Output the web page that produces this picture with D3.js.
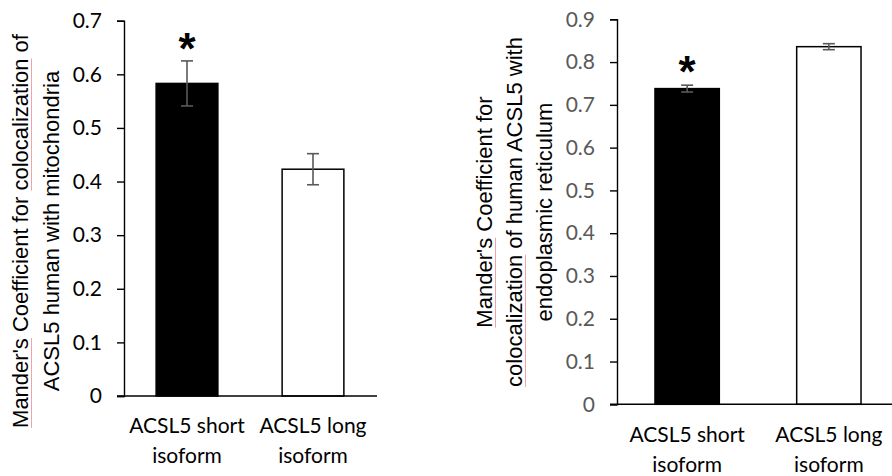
<!DOCTYPE html>
<html>
<head>
<meta charset="utf-8">
<script src="https://cdn.jsdelivr.net/npm/d3@7"></script>
<style>
  body { margin: 0; background: #fff; }
  svg { display: block; }
  .tick text { font-family: Lato, "Open Sans", sans-serif; }
</style>
</head>
<body>
<svg id="chart" width="892" height="476"></svg>
<script>
// data
var categories = ["ACSL5 short|isoform", "ACSL5 long|isoform"];
var barFills = ["#000000", "#ffffff"];

var mitoMeans = [0.583, 0.423];
var mitoErrors = [0.042, 0.029];
var mitoTicks = [0, 0.1, 0.2, 0.3, 0.4, 0.5, 0.6, 0.7];
var mitoTitle = ["Mander's Coefficient for colocalization of", "ACSL5 human with mitochondria"];

var erMeans = [0.738, 0.836];
var erErrors = [0.008, 0.007];
var erTicks = [0, 0.1, 0.2, 0.3, 0.4, 0.5, 0.6, 0.7, 0.8, 0.9];
var erTitle = ["Mander's Coefficient for", "colocalization of human ACSL5 with", "endoplasmic reticulum"];

var starred = [true, false];
// words marked with the red spell-check underline
var flagged = ["Mander's", "colocalization"];

var svg = d3.select("#chart");

function drawPanel(p) {
	var g = svg.append("g");

	var x = d3.scaleBand()
		.domain(categories)
		.range([p.left, p.right])
		.paddingInner(p.padIn)
		.paddingOuter(p.padOut);

	var y = d3.scaleLinear()
		.domain([0, p.max])
		.range([p.bottom, p.top]);

	var data = categories.map(function(c, i) {
		return {cat: c, mean: p.means[i], err: p.errors[i], fill: barFills[i], star: starred[i]};
	});

	// bars
	g.selectAll("rect.bar")
		.data(data)
		.enter().append("rect")
		.attr("class", "bar")
		.attr("x", function(d) { return x(d.cat); })
		.attr("width", x.bandwidth())
		.attr("y", function(d) { return y(d.mean); })
		.attr("height", function(d) { return y(0) - y(d.mean); })
		.attr("fill", function(d) { return d.fill; })
		.attr("stroke", "#000")
		.attr("stroke-width", 1.5);

	// error bars
	var eb = g.selectAll("g.err")
		.data(data)
		.enter().append("g")
		.attr("class", "err")
		.attr("stroke", "#595959")
		.attr("stroke-width", 1.6);
	eb.append("line")
		.attr("x1", function(d) { return x(d.cat) + x.bandwidth() / 2; })
		.attr("x2", function(d) { return x(d.cat) + x.bandwidth() / 2; })
		.attr("y1", function(d) { return y(d.mean + d.err); })
		.attr("y2", function(d) { return y(d.mean - d.err); });
	[1, -1].forEach(function(s) {
		eb.append("line")
			.attr("x1", function(d) { return x(d.cat) + x.bandwidth() / 2 - 6; })
			.attr("x2", function(d) { return x(d.cat) + x.bandwidth() / 2 + 6; })
			.attr("y1", function(d) { return y(d.mean + s * d.err); })
			.attr("y2", function(d) { return y(d.mean + s * d.err); });
	});

	// asterisks
	g.selectAll("text.star")
		.data(data.filter(function(d) { return d.star; }))
		.enter().append("text")
		.attr("class", "star")
		.attr("x", function(d) { return x(d.cat) + x.bandwidth() / 2; })
		.attr("y", function(d) { return y(d.mean + d.err) + p.starDrop; })
		.attr("text-anchor", "middle")
		.attr("font-family", "Liberation Sans, Arial, sans-serif")
		.attr("font-weight", "bold")
		.attr("font-size", 44)
		.text("*");

	// y axis
	var yAxis = g.append("g")
		.attr("transform", "translate(" + p.left + ",0)")
		.call(d3.axisLeft(y).tickValues(p.ticks).tickSize(7).tickSizeOuter(7).tickPadding(15)
			.tickFormat(function(d) { return d === 0 ? "0" : d3.format(".1f")(d); }));
	yAxis.select(".domain").attr("stroke", "#000").attr("stroke-width", 1.4);
	yAxis.selectAll(".tick line").attr("stroke", "#000").attr("stroke-width", 1.4);
	yAxis.selectAll(".tick text")
		.attr("font-size", 21)
		.attr("fill", p.tickColor);

	// x axis line
	g.append("line")
		.attr("x1", p.left - 7)
		.attr("x2", p.axisEnd)
		.attr("y1", y(0))
		.attr("y2", y(0))
		.attr("stroke", "#000")
		.attr("stroke-width", 1.4);

	// category labels
	var xl = g.selectAll("text.cat")
		.data(categories)
		.enter().append("text")
		.attr("class", "cat")
		.attr("text-anchor", "middle")
		.attr("font-family", "Lato, 'Open Sans', sans-serif")
		.attr("font-size", 21)
		.attr("fill", "#000");
	[0, 1].forEach(function(k) {
		xl.append("tspan")
			.attr("x", function(d) { return x(d) + x.bandwidth() / 2; })
			.attr("y", p.labelY + k * 30)
			.text(function(d) { return d.split("|")[k]; });
	});

	// y title, with the spell-check underlines
	p.title.forEach(function(line, k) {
		var tg = svg.append("g")
			.attr("transform", "translate(" + p.titleX[k] + "," + p.titleCenter + ") rotate(-90)");
		var t = tg.append("text")
			.attr("text-anchor", "middle")
			.attr("font-family", "Liberation Sans, Arial, sans-serif")
			.attr("font-size", 22)
			.attr("fill", "#000")
			.text(line);
		var total = t.node().getComputedTextLength();
		flagged.forEach(function(w) {
			var i = line.indexOf(w);
			if (i < 0) return;
			var x0 = -total / 2 + (i > 0 ? t.node().getSubStringLength(0, i) : 0);
			var len = t.node().getSubStringLength(i, w.length);
			tg.append("line")
				.attr("x1", x0).attr("x2", x0 + len)
				.attr("y1", 3.5).attr("y2", 3.5)
				.attr("stroke", "#f3a3a3")
				.attr("stroke-width", 1);
		});
	});
}

drawPanel({
	means: mitoMeans, errors: mitoErrors, ticks: mitoTicks, max: 0.7, title: mitoTitle,
	left: 124, right: 376, axisEnd: 377, top: 20.7, bottom: 396,
	padIn: 0.51, padOut: 0.255, tickColor: "#000",
	starDrop: 3, labelY: 433, titleX: [28, 59], titleCenter: 231
});

drawPanel({
	means: erMeans, errors: erErrors, ticks: erTicks, max: 0.9, title: erTitle,
	left: 617, right: 899, axisEnd: 892, top: 19.3, bottom: 404.3,
	padIn: 0.546, padOut: 0.268, tickColor: "#595959",
	starDrop: 2, labelY: 442, titleX: [492, 522, 552], titleCenter: 212
});
</script>
</body>
</html>
